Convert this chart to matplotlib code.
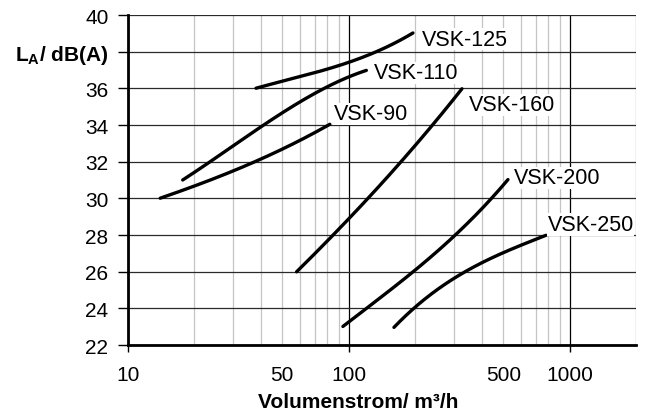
import numpy as np
import matplotlib
matplotlib.use('Agg')
import matplotlib.pyplot as plt
from matplotlib.ticker import FixedLocator

plt.rcParams['font.family'] = ['Liberation Sans', 'DejaVu Sans']
plt.rcParams['mathtext.fontset'] = 'custom'
plt.rcParams['mathtext.rm'] = 'Liberation Sans'
plt.rcParams['mathtext.bf'] = 'Liberation Sans:bold'

# Kennlinien (Volumenstrom m3/h, Schallpegel dB(A))
vsk90_x = [14, 25, 40, 60, 82]
vsk90_y = [30, 31.2, 32, 33.3, 34]
vsk110_x = [17.7, 26, 40, 55, 85, 120]
vsk110_y = [31, 32.4, 33.8, 35.1, 36.2, 37]
vsk125_x = [38, 60, 100, 135, 195]
vsk125_y = [36, 36.7, 37.3, 38.15, 39]
vsk160_x = [58, 100, 139, 177, 243, 325]
vsk160_y = [26, 28.9, 30.7, 32.25, 34.05, 36]
vsk200_x = [94, 139, 200, 299, 395, 525]
vsk200_y = [23, 24.65, 26.05, 27.9, 29.45, 31]
vsk250_x = [160, 200, 260, 356, 521, 780]
vsk250_y = [23, 24.0, 25.2, 26.2, 27.1, 28]

names = ['VSK-90', 'VSK-110', 'VSK-125', 'VSK-160', 'VSK-200', 'VSK-250']
label_x = [85.3, 129.6, 214.8, 349, 558, 792]
label_y = [34.31, 36.55, 38.39, 34.8, 30.82, 28.28]

y_ticks = [22, 24, 26, 28, 30, 32, 34, 36, 38, 40]
x_ticks = [10, 50, 100, 500, 1000]

fig = plt.figure(figsize=(6.46, 4.14), dpi=100)
ax = fig.add_axes([0.198, 0.164, 0.787, 0.797])

ax.set_xscale('log')
ax.set_xlim(10, 2000)
ax.set_ylim(22, 40)

# Gitter
minor = [m * d for d in (10, 100, 1000) for m in range(2, 10)] + [2000]
for v in minor:
    ax.axvline(v, color='#c4c4c4', lw=0.9, zorder=1)
for v in (10, 100, 1000):
    ax.axvline(v, color='black', lw=0.9, zorder=1.5)
for v in y_ticks:
    ax.axhline(v, color='#2a2a2a', lw=0.9, zorder=1.5)

series = [(vsk90_x, vsk90_y), (vsk110_x, vsk110_y), (vsk125_x, vsk125_y),
          (vsk160_x, vsk160_y), (vsk200_x, vsk200_y), (vsk250_x, vsk250_y)]
for (xs, ys), name, lx, ly in zip(series, names, label_x, label_y):
    lxs = np.log10(xs)
    t = np.linspace(lxs[0], lxs[-1], 200)
    # glatte Kurve durch die Stützpunkte
    coef = np.polyfit(lxs, ys, min(3, len(xs) - 1))
    ax.plot(10 ** t, np.polyval(coef, t), color='black', lw=2.4,
            solid_capstyle='round', zorder=3)
    ax.text(lx, ly, name, fontsize=15.5, va='baseline', ha='left', zorder=4,
            bbox=dict(facecolor='white', edgecolor='none', pad=0.5))

ax.xaxis.set_major_locator(FixedLocator(x_ticks))
ax.xaxis.set_minor_locator(FixedLocator([]))
ax.set_xticklabels([str(v) for v in x_ticks])
ax.set_yticks(y_ticks)
ylabels = [str(v) for v in y_ticks]
ylabels[8] = r'$\mathbf{L_A}$/ dB(A)'
ax.set_yticklabels(ylabels)

ax.tick_params(axis='both', labelsize=15, width=1, color='black')
ax.tick_params(axis='y', length=7, pad=7)
ax.tick_params(axis='x', length=5, pad=9)
for lab in ax.get_yticklabels():
    if 'dB' in lab.get_text():
        lab.set_fontweight('bold')
for tick, v in zip(ax.xaxis.get_major_ticks(), x_ticks):
    if v in (50, 500):
        tick.tick1line.set_visible(False)

for s in ('top', 'right'):
    ax.spines[s].set_visible(False)
ax.spines['left'].set_linewidth(2)
ax.spines['bottom'].set_linewidth(2)
ax.spines['left'].set_zorder(5)
ax.spines['bottom'].set_zorder(5)

fig.text(358 / 646, 6 / 414, 'Volumenstrom/ m³/h', fontsize=15,
         fontweight='bold', ha='center', va='baseline')

fig.savefig('out.png', dpi=100)
